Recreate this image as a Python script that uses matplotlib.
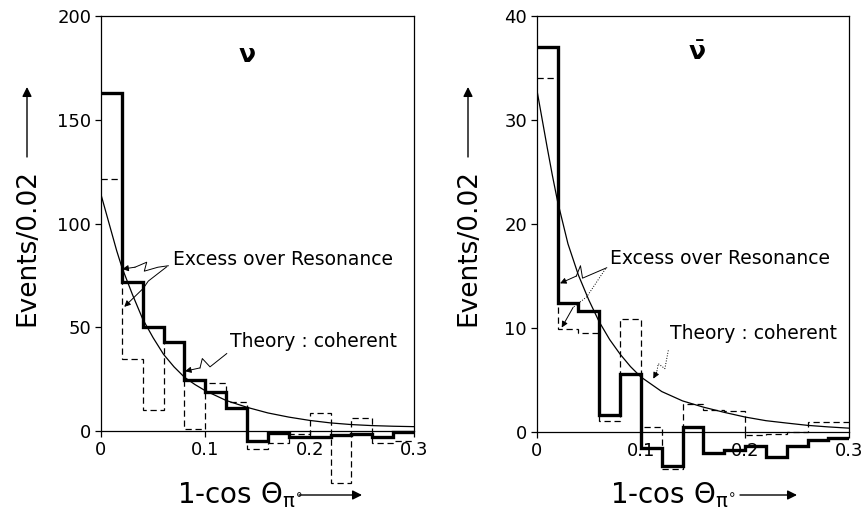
import numpy as np
import matplotlib
matplotlib.use("Agg")
import matplotlib.pyplot as plt

# bin edges of 1 - cos(theta_pi0), width 0.02
bin_edges = [0.0, 0.02, 0.04, 0.06, 0.08, 0.10, 0.12, 0.14, 0.16, 0.18,
             0.20, 0.22, 0.24, 0.26, 0.28, 0.30]

# neutrino panel
nu_excess = [163, 72, 50, 43, 24.5, 19, 11, -4.5, -0.8, -2.7, -3, -1.6, -1.1, -2.8, -0.5]
nu_dashed = [121.5, 34.7, 10.4, 43, 1.3, 23, 14, -8.4, -5.6, -1.1, 8.9, -25, 6.5, -5.6, -4.5]

# antineutrino panel
nubar_excess = [37, 12.4, 11.6, 1.6, 5.6, -1.5, -3.3, 0.5, -2.0, -1.7, -1.3, -2.4, -1.3, -0.8, -0.6]
nubar_dashed = [34, 9.95, 9.5, 1.1, 10.9, 0.5, -3.5, 2.7, 2.1, 2.0, -0.3, -0.2, 0.0, 1.0, 1.0]

# theory (coherent) curves
theory_x = [0, 0.005, 0.01, 0.015, 0.02, 0.03, 0.04, 0.05, 0.06, 0.07, 0.08, 0.09,
            0.10, 0.12, 0.14, 0.16, 0.18, 0.20, 0.22, 0.24, 0.26, 0.28, 0.30]
nu_theory = [114, 105, 96, 87, 79, 66, 54, 45, 37, 31, 26, 22.5,
             19.5, 14.8, 11.5, 8.8, 6.8, 5.2, 4.0, 3.2, 2.7, 2.4, 2.2]
nubar_theory = [33, 30.2, 27.4, 24.7, 22.2, 18.1, 15.1, 12.7, 10.6, 8.9, 7.5, 6.3,
                5.3, 3.9, 3.0, 2.4, 1.9, 1.45, 1.1, 0.87, 0.65, 0.5, 0.38]

W, H = 864, 513


def fx(px):
    return px / W


def fy(py):
    return 1 - py / H


plt.rcParams['font.family'] = ['DejaVu Sans']
plt.rcParams['mathtext.default'] = 'regular'

fig = plt.figure(figsize=(8.64, 5.13), dpi=100)

ax1 = fig.add_axes([fx(101), fy(493.5), fx(414) - fx(101), fy(16) - fy(493.5)])
ax2 = fig.add_axes([fx(536.7), fy(493.5), fx(849.3) - fx(536.7), fy(16) - fy(493.5)])


def setup(ax, ymin, ymax, yticks):
    ax.set_xlim(0, 0.3)
    ax.set_ylim(ymin, ymax)
    ax.spines['bottom'].set_position(('data', 0))
    ax.spines['left'].set_bounds(0, ymax)
    ax.spines['right'].set_bounds(0, ymax)
    for s in ax.spines.values():
        s.set_linewidth(0.9)
    ax.set_xticks([0, 0.1, 0.2, 0.3])
    ax.set_xticklabels(['0', '0.1', '0.2', '0.3'])
    ax.set_yticks(yticks)
    ax.tick_params(direction='out', length=4, width=0.9, pad=3, labelsize=13)
    ax.patch.set_visible(False)


setup(ax1, -30, 200, [0, 50, 100, 150, 200])
setup(ax2, -5.9, 40, [0, 10, 20, 30, 40])

for ax, solid, dashed, theo in [(ax1, nu_excess, nu_dashed, nu_theory),
                                (ax2, nubar_excess, nubar_dashed, nubar_theory)]:
    ax.stairs(dashed, bin_edges, baseline=None, color='black', lw=0.9,
              linestyle=(0, (5, 3)))
    ax.plot(theory_x, theo, color='black', lw=0.9)
    ax.stairs(solid, bin_edges, baseline=None, color='black', lw=2.4,
              joinstyle='miter')


def leader(ax, xs, ys, ls='-'):
    ax.plot(xs[:-1], ys[:-1], color='black', lw=0.7, linestyle=ls)
    ax.annotate('', xy=(xs[-1], ys[-1]), xytext=(xs[-2], ys[-2]),
                arrowprops=dict(arrowstyle='-|>', color='black', lw=0.7,
                                mutation_scale=9, shrinkA=0, shrinkB=0))


# left panel labels
ax1.text(0.14, 181, r'$\mathbf{\nu}$', fontsize=18, ha='center', va='center')
ax1.text(0.069, 82.5, 'Excess over Resonance', fontsize=13.5, ha='left', va='center')
ax1.text(0.1236, 43, 'Theory : coherent', fontsize=13.5, ha='left', va='center')
leader(ax1, [0.0645, 0.0546, 0.0415, 0.0438, 0.0326, 0.0204],
       [79.7, 79.0, 77.1, 81.4, 79.0, 78.1])
leader(ax1, [0.063, 0.0453, 0.0405, 0.0223], [79.2, 72.3, 68.8, 59.9])
leader(ax1, [0.1205, 0.1045, 0.0971, 0.0949, 0.0805], [37.4, 31.0, 35.0, 30.5, 28.9])

# right panel labels
ax2.text(0.154, 36.4, r'$\bar{\mathbf{\nu}}$', fontsize=18, ha='center', va='center')
ax2.text(0.0703, 16.7, 'Excess over Resonance', fontsize=13.5, ha='left', va='center')
ax2.text(0.128, 9.5, 'Theory : coherent', fontsize=13.5, ha='left', va='center')
leader(ax2, [0.0672, 0.044, 0.042, 0.038, 0.0224], [15.8, 14.8, 16.0, 15.0, 14.3])
leader(ax2, [0.066, 0.048, 0.035, 0.024], [15.7, 13.0, 12.0, 10.05], ls=':')
leader(ax2, [0.1263, 0.123, 0.1167, 0.1152, 0.1119], [7.86, 6.1, 6.58, 5.77, 5.14], ls=':')

# axis titles with arrows
for xc, xl_start, arr_x0, arr_x1 in [(27, 177, 299, 362), (468, 610, 740, 797)]:
    fig.text(fx(xc), fy(248), 'Events/0.02', rotation=90, fontsize=19,
             ha='center', va='center')
    fig.add_artist(plt.Annotation('', xy=(fx(xc), fy(87)), xytext=(fx(xc), fy(157)),
                                  xycoords='figure fraction', textcoords='figure fraction',
                                  arrowprops=dict(arrowstyle='-|>', color='black', lw=1.0,
                                                  mutation_scale=14, shrinkA=0, shrinkB=0)))
    fig.text(fx(xl_start), fy(495), r'1-cos $\Theta_{\pi^{\circ}}$', fontsize=20,
             ha='left', va='center')
    fig.add_artist(plt.Annotation('', xy=(fx(arr_x1), fy(495)), xytext=(fx(arr_x0), fy(495)),
                                  xycoords='figure fraction', textcoords='figure fraction',
                                  arrowprops=dict(arrowstyle='-|>', color='black', lw=1.0,
                                                  mutation_scale=14, shrinkA=0, shrinkB=0)))

fig.savefig('out.png', dpi=100)
